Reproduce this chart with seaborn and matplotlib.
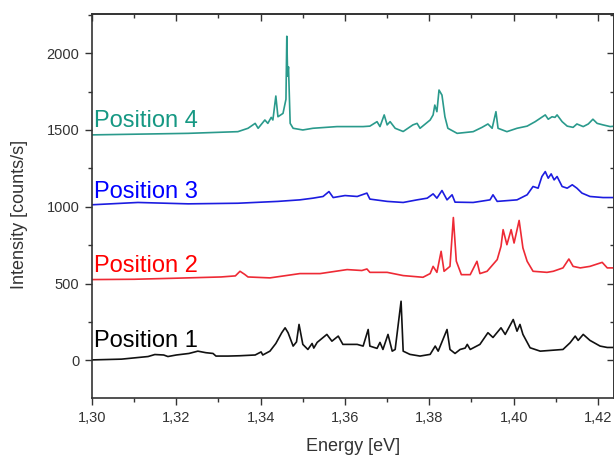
import matplotlib
matplotlib.use("Agg")
import matplotlib.pyplot as plt
import matplotlib.ticker as mticker
import numpy as np
import pandas as pd
import seaborn as sns

# ---------------- data ----------------
labels = ["Position 1", "Position 2", "Position 3", "Position 4"]
colors = ["#111111", "#ee2a35", "#1c1ce0", "#2a9a8c"]
text_colors = ["#000000", "#ff0000", "#0000ff", "#169883"]

e1 = [1.3000, 1.3070, 1.3133, 1.3149, 1.3170, 1.3180, 1.3200, 1.3230, 1.3251, 1.3270,
      1.3287, 1.3294, 1.3323, 1.3350, 1.3387, 1.3401, 1.3405, 1.3422, 1.3436, 1.3439,
      1.3450, 1.3458, 1.3465, 1.3477, 1.3485, 1.3491, 1.3500, 1.3512, 1.3522, 1.3526,
      1.3534, 1.3557, 1.3569, 1.3584, 1.3595, 1.3629, 1.3643, 1.3655, 1.3659, 1.3676,
      1.3683, 1.3690, 1.3702, 1.3712, 1.3719, 1.3733, 1.3738, 1.3754, 1.3778, 1.3802,
      1.3814, 1.3821, 1.3842, 1.3849, 1.3861, 1.3873, 1.3885, 1.3890, 1.3897, 1.3920,
      1.3939, 1.3951, 1.3970, 1.3980, 1.3999, 1.4008, 1.4015, 1.4022, 1.4039, 1.4063,
      1.4117, 1.4134, 1.4146, 1.4153, 1.4165, 1.4181, 1.4205, 1.4222, 1.4240]
i1 = [3, 8, 25, 38, 35, 25, 35, 45, 60, 50,
      45, 28, 28, 30, 35, 55, 35, 60, 110, 125,
      180, 212, 180, 93, 120, 234, 104, 71, 110, 80,
      117, 169, 125, 158, 104, 104, 93, 201, 93, 78,
      117, 71, 169, 60, 71, 385, 60, 39, 28, 39,
      93, 60, 201, 71, 45, 71, 80, 104, 71, 104,
      180, 149, 212, 169, 266, 190, 234, 169, 82, 60,
      71, 115, 158, 130, 169, 130, 93, 84, 84]

e2 = [1.3000, 1.3100, 1.3200, 1.3306, 1.3340, 1.3351, 1.3362, 1.3370, 1.3422, 1.3493,
      1.3541, 1.3605, 1.3640, 1.3652, 1.3659, 1.3700, 1.3738, 1.3785, 1.3802, 1.3809,
      1.3818, 1.3828, 1.3835, 1.3849, 1.3857, 1.3864, 1.3876, 1.3897, 1.3913, 1.3920,
      1.3937, 1.3961, 1.3970, 1.3975, 1.3984, 1.3994, 1.4001, 1.4013, 1.4022, 1.4032,
      1.4046, 1.4079, 1.4094, 1.4117, 1.4131, 1.4141, 1.4158, 1.4181, 1.4210, 1.4222,
      1.4240]
i2 = [526, 528, 535, 543, 550, 580, 560, 543, 537, 565,
      565, 591, 585, 595, 573, 573, 552, 541, 565, 612,
      573, 710, 580, 612, 930, 646, 558, 558, 645, 565,
      580, 656, 742, 851, 753, 851, 764, 911, 732, 645,
      580, 573, 580, 602, 660, 612, 602, 612, 638, 602,
      602]

e3 = [1.3000, 1.3109, 1.3228, 1.3346, 1.3441, 1.3493, 1.3524, 1.3548, 1.3562, 1.3572,
      1.3600, 1.3629, 1.3652, 1.3659, 1.3700, 1.3738, 1.3771, 1.3795, 1.3809, 1.3818,
      1.3830, 1.3842, 1.3854, 1.3861, 1.3904, 1.3944, 1.3951, 1.3961, 1.4008, 1.4032,
      1.4046, 1.4058, 1.4067, 1.4075, 1.4082, 1.4089, 1.4096, 1.4103, 1.4115, 1.4127,
      1.4139, 1.4150, 1.4162, 1.4181, 1.4212, 1.4240]
i3 = [1013, 1028, 1019, 1023, 1035, 1045, 1056, 1067, 1099, 1060,
      1073, 1067, 1089, 1050, 1035, 1028, 1045, 1056, 1084, 1056,
      1106, 1045, 1078, 1030, 1028, 1045, 1078, 1035, 1045, 1078,
      1132, 1121, 1197, 1229, 1186, 1214, 1175, 1197, 1132, 1121,
      1143, 1121, 1089, 1067, 1060, 1060]

e4 = [1.3000, 1.3228, 1.3346, 1.3370, 1.3387, 1.3394, 1.3410, 1.3417, 1.3425, 1.3429,
      1.3436, 1.3441, 1.3453, 1.3460, 1.3462, 1.3464, 1.3466, 1.3470, 1.3477, 1.3500,
      1.3524, 1.3581, 1.3643, 1.3659, 1.3676, 1.3683, 1.3693, 1.3700, 1.3707, 1.3719,
      1.3738, 1.3761, 1.3771, 1.3778, 1.3802, 1.3809, 1.3813, 1.3818, 1.3823, 1.3830,
      1.3837, 1.3844, 1.3866, 1.3904, 1.3925, 1.3939, 1.3949, 1.3958, 1.3963, 1.3984,
      1.4008, 1.4032, 1.4051, 1.4063, 1.4075, 1.4082, 1.4091, 1.4098, 1.4103, 1.4115,
      1.4127, 1.4141, 1.4150, 1.4165, 1.4177, 1.4188, 1.4198, 1.4212, 1.4229, 1.4240]
i4 = [1468, 1478, 1489, 1511, 1543, 1511, 1565, 1543, 1582, 1565,
      1721, 1586, 1608, 1700, 2110, 1850, 1911, 1543, 1511, 1500,
      1511, 1522, 1522, 1525, 1554, 1522, 1598, 1533, 1554, 1511,
      1490, 1533, 1543, 1511, 1565, 1598, 1662, 1619, 1760, 1727,
      1586, 1511, 1478, 1489, 1517, 1539, 1511, 1619, 1511, 1489,
      1511, 1525, 1554, 1576, 1598, 1570, 1586, 1582, 1598, 1554,
      1525, 1517, 1539, 1522, 1539, 1570, 1543, 1533, 1522, 1525]

label_x = [1.3005, 1.3005, 1.3005, 1.3005]
label_y = [84, 573, 1058, 1520]

x_ticks = [1.30, 1.32, 1.34, 1.36, 1.38, 1.40, 1.42]
x_tick_labels = ["1,30", "1,32", "1,34", "1,36", "1,38", "1,40", "1,42"]
y_ticks = [0, 500, 1000, 1500, 2000]

# ---------------- figure ----------------
sns.set_theme(style="ticks")
plt.rcParams["font.family"] = ["Liberation Sans", "DejaVu Sans"]

frames = []
for lab, e, i in zip(labels, [e1, e2, e3, e4], [i1, i2, i3, i4]):
    frames.append(pd.DataFrame({"Energy": e, "Intensity": i, "Position": lab}))
df = pd.concat(frames, ignore_index=True)

fig = plt.figure(figsize=(6.14, 4.55), dpi=100)
ax = fig.add_axes([92 / 614, 57 / 455, (614 - 92) / 614, (398 - 14) / 455])

sns.lineplot(data=df, x="Energy", y="Intensity", hue="Position",
             palette=dict(zip(labels, colors)), estimator=None, sort=True,
             linewidth=1.2, legend=False, ax=ax)

for lab, tx, ty, tc in zip(labels, label_x, label_y, text_colors):
    ax.text(tx, ty, lab, color=tc, fontsize=17, ha="left", va="baseline")

ax.set_xlim(1.30, 1.4238)
ax.set_ylim(-245, 2255)

spine_col = "#333333"
for s in ax.spines.values():
    s.set_visible(True)
    s.set_color(spine_col)
    s.set_linewidth(1.2)

ax.set_xticks(x_ticks)
ax.set_xticklabels(x_tick_labels)
ax.set_yticks(y_ticks)
ax.xaxis.set_minor_locator(mticker.MultipleLocator(0.01))
ax.yaxis.set_minor_locator(mticker.MultipleLocator(250))
ax.tick_params(axis="both", which="major", direction="out", length=5, width=1.0,
               color=spine_col, labelsize=10.5, labelcolor="#333333", pad=4)
ax.tick_params(axis="both", which="minor", direction="out", length=3, width=1.0,
               color=spine_col)
ax.tick_params(top=False, right=False, which="both")

# inward ticks on top and right
top = ax.secondary_xaxis("top")
top.set_xticks(x_ticks)
top.xaxis.set_minor_locator(mticker.MultipleLocator(0.01))
top.tick_params(which="both", direction="in", labeltop=False, color=spine_col, width=1.0)
top.tick_params(which="major", length=5)
top.tick_params(which="minor", length=3)
top.spines["top"].set_color(spine_col)
top.spines["top"].set_linewidth(1.2)

right = ax.secondary_yaxis("right")
right.set_yticks(y_ticks)
right.yaxis.set_minor_locator(mticker.MultipleLocator(250))
right.tick_params(which="both", direction="in", labelright=False, color=spine_col, width=1.0)
right.tick_params(which="major", length=5)
right.tick_params(which="minor", length=3)
right.spines["right"].set_color(spine_col)
right.spines["right"].set_linewidth(1.2)

ax.set_xlabel("Energy [eV]", fontsize=13, color="#333333")
ax.set_ylabel("Intensity [counts/s]", fontsize=13, color="#333333")
ax.xaxis.set_label_coords(0.5, -0.104)
ax.yaxis.set_label_coords(-0.1226, 0.479)

fig.savefig("out.png", dpi=100, facecolor="white")
